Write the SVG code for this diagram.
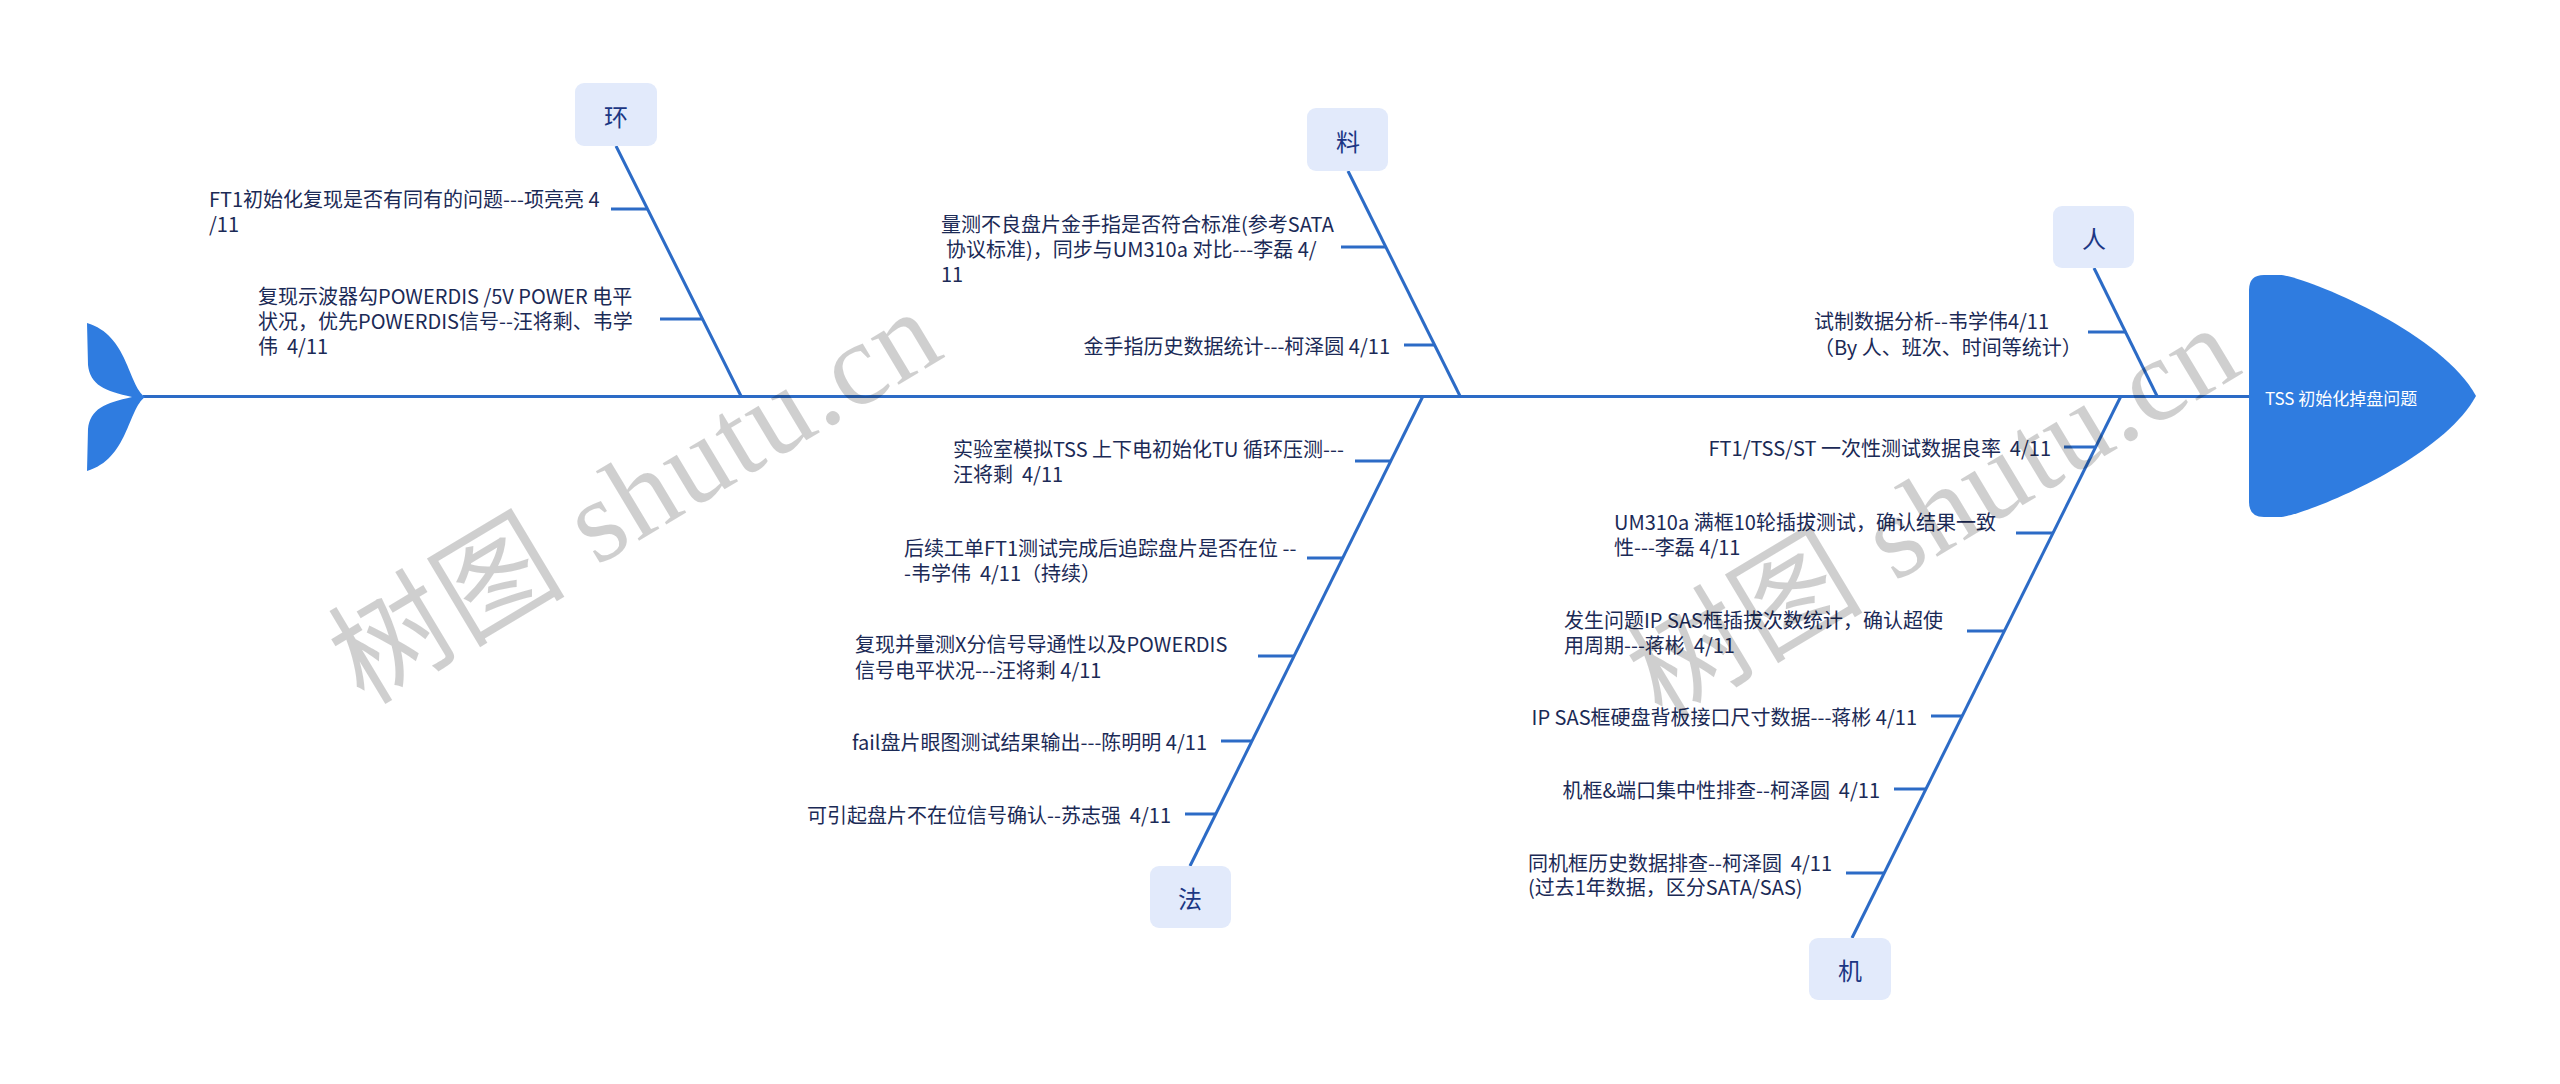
<svg xmlns="http://www.w3.org/2000/svg" width="2560" height="1084" viewBox="0 0 2560 1084" xml:space="preserve">
<style>
.ln{stroke:#2c6bc6;stroke-width:3;fill:none;stroke-linecap:butt}
.fish{fill:#2f7ce0}
.cat rect{fill:#e2eafb}
.cat text{font-family:"Noto Sans CJK SC","Noto Sans",sans-serif;font-size:24px;fill:#1c3784;text-anchor:middle;dominant-baseline:central}
.t{font-family:"Noto Sans CJK SC","Noto Sans",sans-serif;font-size:20px;fill:#1b2a56;dominant-baseline:central;white-space:pre}
.e{text-anchor:end}
.wm{font-family:"Liberation Serif","Noto Sans CJK SC",serif;font-size:118px;fill:#000;fill-opacity:0.19}
</style>
<rect width="2560" height="1084" fill="#ffffff"/>
<g id="connectors">
<line class="ln" x1="143" y1="396.5" x2="2252" y2="396.5"/>
<line class="ln" x1="616" y1="146" x2="741" y2="396"/>
<line class="ln" x1="1348" y1="171" x2="1460" y2="396"/>
<line class="ln" x1="2094" y1="268" x2="2157" y2="396"/>
<line class="ln" x1="1423" y1="396" x2="1190" y2="866"/>
<line class="ln" x1="2121" y1="396" x2="1852" y2="938"/>
<line class="ln" x1="611" y1="209" x2="647" y2="209"/>
<line class="ln" x1="660" y1="319" x2="702" y2="319"/>
<line class="ln" x1="1341" y1="247" x2="1386" y2="247"/>
<line class="ln" x1="1404" y1="345" x2="1435" y2="345"/>
<line class="ln" x1="2088" y1="332" x2="2125" y2="332"/>
<line class="ln" x1="1355" y1="461" x2="1391" y2="461"/>
<line class="ln" x1="1307" y1="558" x2="1343" y2="558"/>
<line class="ln" x1="1258" y1="656" x2="1294" y2="656"/>
<line class="ln" x1="1221" y1="741" x2="1252" y2="741"/>
<line class="ln" x1="1185" y1="814" x2="1216" y2="814"/>
<line class="ln" x1="2064" y1="447" x2="2096" y2="447"/>
<line class="ln" x1="2016" y1="533" x2="2053" y2="533"/>
<line class="ln" x1="1967" y1="631" x2="2004" y2="631"/>
<line class="ln" x1="1931" y1="716" x2="1962" y2="716"/>
<line class="ln" x1="1894" y1="789" x2="1926" y2="789"/>
<line class="ln" x1="1846" y1="873" x2="1884" y2="873"/>
</g>
<g id="tail">
<path class="fish" d="M145,397 C128,385 128,335 87,323 L88,365 C90,385 105,391 132,397 C105,403 90,409 88,429 L87,471 C128,459 128,409 145,397 Z"/>
</g>
<g id="head">
<path class="fish" d="M2249,290 Q2249,275 2264,275 L2280,275 C2300,275 2440,330 2476,396 C2440,462 2300,517 2280,517 L2264,517 Q2249,517 2249,502 Z"/>
<text x="2265" y="397" style="font-family:'Noto Sans CJK SC','Noto Sans',sans-serif;font-size:17px;fill:#ffffff;dominant-baseline:central">TSS 初始化掉盘问题</text>
</g>
<g id="cat-huan" class="cat"><rect x="575" y="83" width="82" height="63" rx="9"/><text x="616" y="115">环</text></g>
<g id="cat-liao" class="cat"><rect x="1307" y="108" width="81" height="63" rx="9"/><text x="1348" y="140">料</text></g>
<g id="cat-ren" class="cat"><rect x="2053" y="206" width="81" height="62" rx="9"/><text x="2094" y="237">人</text></g>
<g id="cat-fa" class="cat"><rect x="1150" y="866" width="81" height="62" rx="9"/><text x="1190" y="897">法</text></g>
<g id="cat-ji" class="cat"><rect x="1809" y="938" width="82" height="62" rx="9"/><text x="1850" y="969">机</text></g>
<g id="huan-1"><text class="t" x="209" y="198">FT1初始化复现是否有同有的问题---项亮亮 4</text><text class="t" x="209" y="223">/11</text></g>
<g id="huan-2"><text class="t" x="258" y="295">复现示波器勾POWERDIS /5V POWER 电平</text><text class="t" x="258" y="320">状况，优先POWERDIS信号--汪将剩、韦学</text><text class="t" x="258" y="345">伟  4/11</text></g>
<g id="liao-1"><text class="t" x="941" y="223">量测不良盘片金手指是否符合标准(参考SATA</text><text class="t" x="946" y="248">协议标准)，同步与UM310a 对比---李磊 4/</text><text class="t" x="941" y="273">11</text></g>
<g id="liao-2"><text class="t e" x="1390" y="345">金手指历史数据统计---柯泽圆 4/11</text></g>
<g id="ren-1"><text class="t" x="1814" y="320">试制数据分析--韦学伟4/11</text><text class="t" x="1814" y="346">（By 人、班次、时间等统计）</text></g>
<g id="fa-1"><text class="t" x="953" y="448">实验室模拟TSS 上下电初始化TU 循环压测---</text><text class="t" x="953" y="473">汪将剩  4/11</text></g>
<g id="fa-2"><text class="t" x="904" y="547">后续工单FT1测试完成后追踪盘片是否在位 --</text><text class="t" x="904" y="572">-韦学伟  4/11（持续）</text></g>
<g id="fa-3"><text class="t" x="855" y="643">复现并量测X分信号导通性以及POWERDIS</text><text class="t" x="855" y="669">信号电平状况---汪将剩 4/11</text></g>
<g id="fa-4"><text class="t e" x="1207" y="741">fail盘片眼图测试结果输出---陈明明 4/11</text></g>
<g id="fa-5"><text class="t e" x="1171" y="814">可引起盘片不在位信号确认--苏志强  4/11</text></g>
<g id="ji-1"><text class="t e" x="2051" y="447">FT1/TSS/ST 一次性测试数据良率  4/11</text></g>
<g id="ji-2"><text class="t" x="1614" y="521">UM310a 满框10轮插拔测试，确认结果一致</text><text class="t" x="1614" y="546">性---李磊 4/11</text></g>
<g id="ji-3"><text class="t" x="1564" y="619">发生问题IP SAS框插拔次数统计，确认超使</text><text class="t" x="1564" y="644">用周期---蒋彬  4/11</text></g>
<g id="ji-4"><text class="t e" x="1917" y="716">IP SAS框硬盘背板接口尺寸数据---蒋彬 4/11</text></g>
<g id="ji-5"><text class="t e" x="1880" y="789">机框&amp;端口集中性排查--柯泽圆  4/11</text></g>
<g id="ji-6"><text class="t" x="1528" y="862">同机框历史数据排查--柯泽圆  4/11</text><text class="t" x="1528" y="886">(过去1年数据，区分SATA/SAS)</text></g>
<g id="watermark">
<text class="wm" transform="translate(364,706) rotate(-31)" textLength="680" lengthAdjust="spacing">树图 shutu.cn</text>
<text class="wm" transform="translate(1662,722) rotate(-31)" textLength="680" lengthAdjust="spacing">树图 shutu.cn</text>
</g>
</svg>
